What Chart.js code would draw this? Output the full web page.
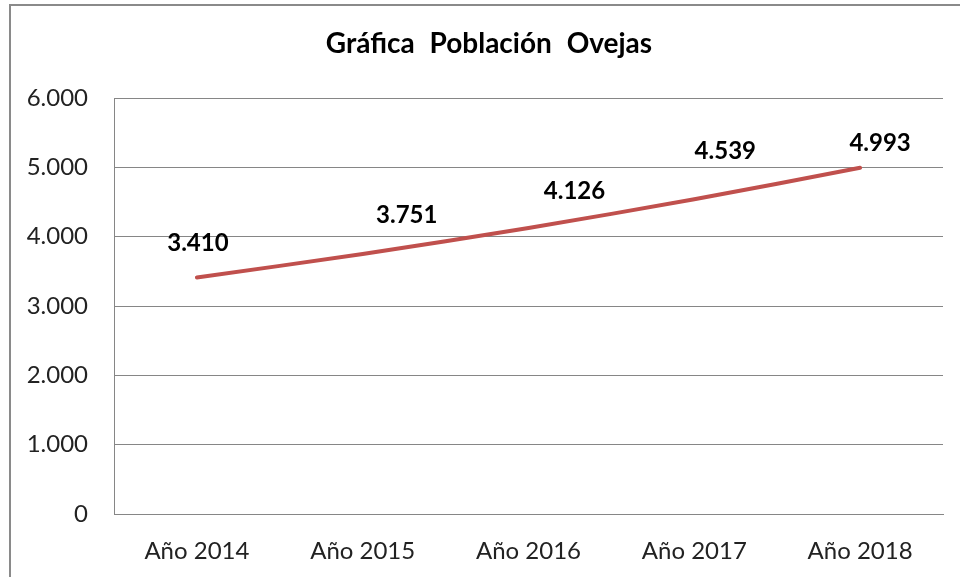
<!DOCTYPE html>
<html><head><meta charset="utf-8">
<script src="https://cdn.jsdelivr.net/npm/chart.js@4"></script>
<style>
html,body{margin:0;padding:0;background:#fff;overflow:hidden}
#wrap{position:relative;width:960px;height:577px}
#frame{position:absolute;left:9px;top:4px;width:1000px;height:1000px;border:2px solid #8a8a8a;box-sizing:border-box;pointer-events:none}
canvas{position:absolute;left:0;top:0}
</style></head><body>
<div id="wrap"><canvas id="c" width="960" height="577"></canvas><div id="frame"></div></div>
<script>
const categories = ["Año 2014", "Año 2015", "Año 2016", "Año 2017", "Año 2018"];
const poblacion = [3410, 3751, 4126, 4539, 4993];
const titleText = "Gráfica Población Ovejas";

function fmt(v){
  const s = Math.round(v).toString();
  return s.replace(/\B(?=(\d{3})+(?!\d))/g, ".");
}

const FONT = "Lato, 'Open Sans', sans-serif";

// label placement (styling), as offsets from each point
const labelOffsets = [[1,-34],[44,-39],[46,-37],[31,-48],[20,-25]];

const valueLabels = {
  id: 'valueLabels',
  afterDatasetsDraw(chart){
    const ctx = chart.ctx;
    const meta = chart.getDatasetMeta(0);
    ctx.save();
    ctx.font = "bold 24px " + FONT;
    ctx.fillStyle = "#000";
    ctx.textAlign = "center";
    ctx.textBaseline = "middle";
    meta.data.forEach((pt, i) => {
      const o = labelOffsets[i] || [0,-30];
      ctx.fillText(fmt(chart.data.datasets[0].data[i]), pt.x + o[0], pt.y + o[1]);
    });
    ctx.restore();
  }
};

const chartTitle = {
  id: 'chartTitle',
  afterDraw(chart){
    const ctx = chart.ctx;
    ctx.save();
    ctx.font = "bold 28px " + FONT;
    if ('wordSpacing' in ctx) ctx.wordSpacing = '8px';
    ctx.fillStyle = "#000";
    ctx.textAlign = "center";
    ctx.textBaseline = "middle";
    ctx.fillText(titleText, 489, 44);
    ctx.restore();
  }
};

new Chart(document.getElementById('c'), {
  type: 'line',
  data: {
    labels: categories,
    datasets: [{
      label: 'Población',
      data: poblacion,
      borderColor: '#C0504D',
      borderWidth: 4,
      pointRadius: 0,
      tension: 0.25,
      fill: false,
      borderCapStyle: 'round'
    }]
  },
  options: {
    responsive: false,
    animation: false,
    layout: { padding: { left: 0, right: 17, top: 98, bottom: 0 } },
    plugins: {
      legend: { display: false },
      tooltip: { enabled: false },
      title: { display: false }
    },
    scales: {
      x: {
        offset: true,
        grid: { display: false, drawTicks: false },
        border: { display: true, color: '#868686', width: 1 },
        ticks: { color: '#222', padding: 23, font: { family: FONT, size: 24 }, maxRotation: 0 },
        afterFit(s){ s.height = 63; }
      },
      y: {
        min: 0, max: 6000,
        ticks: { stepSize: 1000, color: '#222', padding: 26, font: { family: FONT, size: 24 }, callback: v => fmt(v) },
        grid: { color: '#868686', lineWidth: 1, drawTicks: false },
        border: { display: true, color: '#868686', width: 1 },
        afterFit(s){ s.width = 114; }
      }
    }
  },
  plugins: [valueLabels, chartTitle]
});
</script>
</body></html>
